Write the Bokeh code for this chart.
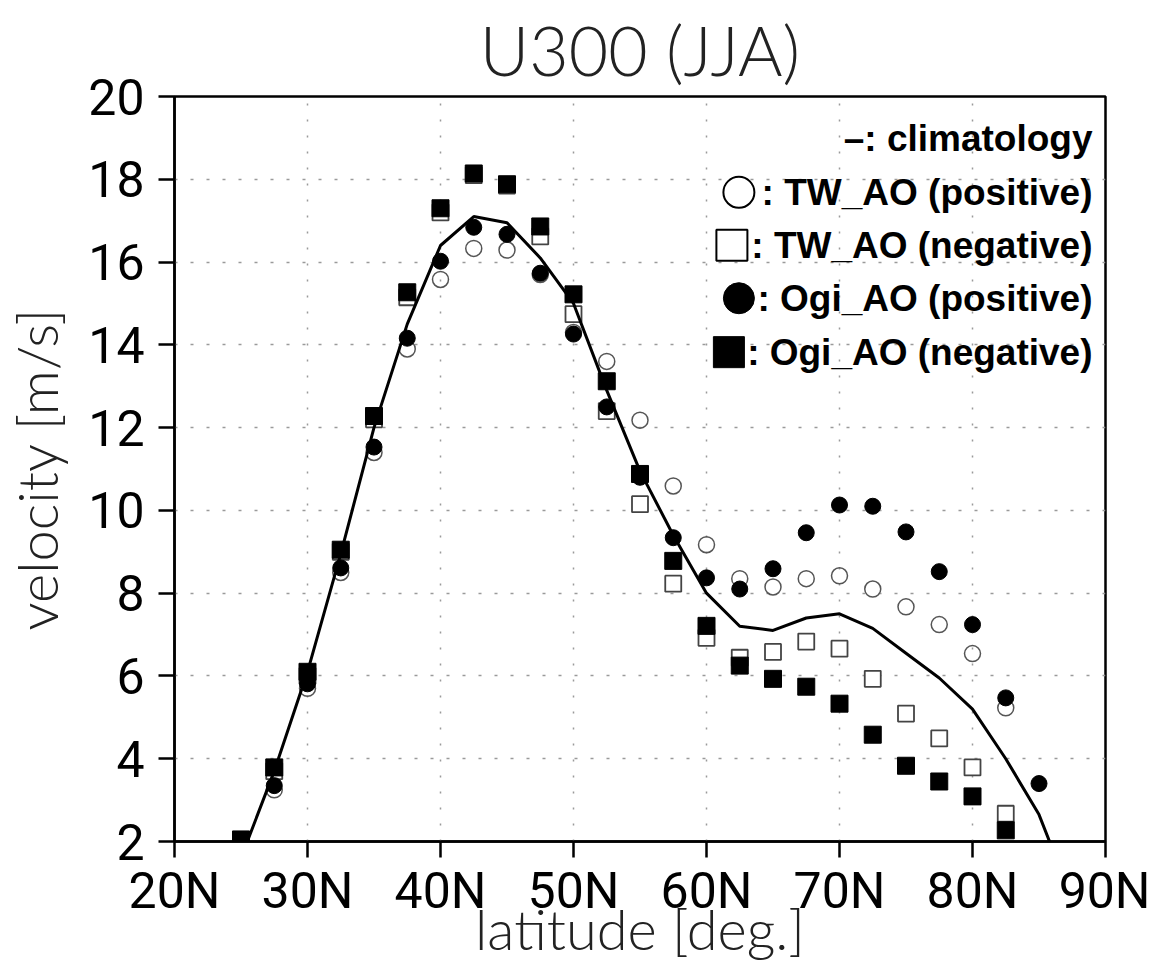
from bokeh.plotting import figure
from bokeh.models import Range1d, FixedTicker, Label
from bokeh.embed import file_html
from bokeh.resources import INLINE

# ---------------- data ----------------
lat_clim = [25, 27.5, 30, 32.5, 35, 37.5, 40, 42.5, 45, 47.5, 50, 52.5, 55, 57.5,
            60, 62.5, 65, 67.5, 70, 72.5, 75, 77.5, 80, 82.5, 85, 87.5]
climatology = [1.6, 3.7, 6.1, 8.95, 12.0, 14.5, 16.4, 17.1, 16.95, 16.1, 15.0, 12.9,
               10.95, 9.4, 8.0, 7.2, 7.1, 7.4, 7.5, 7.15, 6.55, 5.95, 5.2, 4.0, 2.65, 0.6]

lat_tw_pos = [27.5, 30, 32.5, 35, 37.5, 40, 42.5, 45, 47.5, 50, 52.5, 55, 57.5,
              60, 62.5, 65, 67.5, 70, 72.5, 75, 77.5, 80, 82.5]
tw_ao_pos = [3.25, 5.7, 8.5, 11.4, 13.9, 15.58, 16.33, 16.29, 15.7, 14.3, 13.6, 12.18,
             10.59, 9.17, 8.35, 8.15, 8.35, 8.42, 8.1, 7.67, 7.24, 6.54, 5.23]

lat_tw_neg = [25, 27.5, 30, 32.5, 35, 37.5, 40, 42.5, 45, 47.5, 50, 52.5, 55, 57.5,
              60, 62.5, 65, 67.5, 70, 72.5, 75, 77.5, 80, 82.5]
tw_ao_neg = [2.0, 3.7, 6.0, 9.0, 12.2, 15.15, 17.2, 18.1, 17.85, 16.62, 14.74, 12.4,
             10.15, 8.23, 6.92, 6.44, 6.58, 6.83, 6.66, 5.93, 5.09, 4.49, 3.79, 2.67]

lat_ogi_pos = [27.5, 30, 32.5, 35, 37.5, 40, 42.5, 45, 47.5, 50, 52.5, 55, 57.5,
               60, 62.5, 65, 67.5, 70, 72.5, 75, 77.5, 80, 82.5, 85]
ogi_ao_pos = [3.35, 5.81, 8.61, 11.53, 14.16, 16.02, 16.84, 16.67, 15.73, 14.26, 12.5, 10.8,
              9.34, 8.37, 8.1, 8.59, 9.46, 10.13, 10.1, 9.48, 8.52, 7.24, 5.47, 3.4]

lat_ogi_neg = [25, 27.5, 30, 32.5, 35, 37.5, 40, 42.5, 45, 47.5, 50, 52.5, 55, 57.5,
               60, 62.5, 65, 67.5, 70, 72.5, 75, 77.5, 80, 82.5]
ogi_ao_neg = [2.05, 3.79, 6.1, 9.05, 12.28, 15.27, 17.3, 18.14, 17.88, 16.86, 15.22, 13.12,
              10.88, 8.78, 7.21, 6.25, 5.93, 5.74, 5.33, 4.58, 3.83, 3.45, 3.09, 2.27]

x_ticks = [20, 30, 40, 50, 60, 70, 80, 90]
x_tick_labels = ["20N", "30N", "40N", "50N", "60N", "70N", "80N", "90N"]
y_ticks = [2, 4, 6, 8, 10, 12, 14, 16, 18, 20]

legend_texts = ["\u2013: climatology", ": TW_AO (positive)", ": TW_AO (negative)",
                ": Ogi_AO (positive)", ": Ogi_AO (negative)"]

# ---------------- figure ----------------
W, H = 1150, 965
FL, FR, FT, FB = 173, 1105, 95, 841   # frame edges in pixels

p = figure(width=W, height=H, x_range=Range1d(20, 90), y_range=Range1d(2, 20),
           output_backend="svg", toolbar_location=None,
           min_border_left=FL, min_border_right=W - FR,
           min_border_top=FT, min_border_bottom=H - FB,
           title="U300 (JJA)", background_fill_color="white",
           border_fill_color="white")

p.title.align = "center"
p.title.text_font = "Lato Light"
p.title.text_font_style = "normal"
p.title.text_font_size = "68px"
p.title.text_color = "#222222"
p.title.standoff = 13

for ax in (p.xaxis[0], p.yaxis[0]):
    ax.axis_line_width = 2.5
    ax.axis_line_color = "black"
    ax.major_tick_line_width = 2.5
    ax.major_tick_line_color = "black"
    ax.major_tick_out = 16
    ax.major_tick_in = 0
    ax.minor_tick_line_color = None
    ax.major_label_text_font = "Roboto"
    ax.major_label_text_font_size = "50px"
    ax.major_label_text_color = "black"
    ax.axis_label_text_font = "Lato Light"
    ax.axis_label_text_font_style = "normal"
    ax.axis_label_text_font_size = "56px"
    ax.axis_label_text_color = "#222222"

p.xaxis.ticker = FixedTicker(ticks=x_ticks)
p.xaxis.major_label_overrides = {t: s for t, s in zip(x_ticks, x_tick_labels)}
p.xaxis.axis_label = "latitude [deg.]"
p.xaxis.major_label_standoff = 4
p.xaxis.axis_label_standoff = -28

p.yaxis.ticker = FixedTicker(ticks=y_ticks)
p.yaxis.axis_label = "velocity [m/s]"
p.yaxis.major_label_standoff = 14
p.yaxis.axis_label_standoff = 15

p.xgrid.grid_line_color = "#9a9a9a"
p.xgrid.grid_line_dash = "2 14"
p.xgrid.grid_line_width = 1.5
p.ygrid.grid_line_color = "#9a9a9a"
p.ygrid.grid_line_dash = "3 13"
p.ygrid.grid_line_width = 1.5

p.outline_line_color = "black"
p.outline_line_width = 2.5
p.outline_line_alpha = 1.0

MS = 16
p.scatter(lat_tw_pos, tw_ao_pos, marker="circle", size=MS, fill_color="white",
          fill_alpha=0.0, line_color="#555555", line_width=1.5)
p.scatter(lat_tw_neg, tw_ao_neg, marker="square", size=MS, fill_color="white",
          line_color="#444444", line_width=1.8)
p.scatter(lat_ogi_pos, ogi_ao_pos, marker="circle", size=MS, fill_color="black",
          line_color="black", line_width=1)
p.scatter(lat_ogi_neg, ogi_ao_neg, marker="square", size=MS + 1, fill_color="black",
          line_color="black", line_width=1)
p.line(lat_clim, climatology, line_color="black", line_width=3)

# ---------------- legend (placed in pixels, converted to data) ----------------
def px2x(px):
    return 20 + (px - FL) * 70.0 / (FR - FL)

def py2y(py):
    return 2 + (FB - py) * 18.0 / (FB - FT)

row_centers = [137, 191, 244, 297, 351]  # text centres (px)
for txt, cy in zip(legend_texts, row_centers):
    p.add_layout(Label(x=px2x(1092), y=py2y(cy), text=txt, text_align="right",
                       text_baseline="middle", text_font="Liberation Sans",
                       text_font_style="bold", text_font_size="37px",
                       text_color="black"))

LS = 31
p.scatter([px2x(738)], [py2y(191)], marker="circle", size=LS, fill_color="white",
          line_color="black", line_width=2)
p.scatter([px2x(731)], [py2y(244)], marker="square", size=LS, fill_color="white",
          line_color="black", line_width=2)
p.scatter([px2x(738)], [py2y(297)], marker="circle", size=LS, fill_color="black",
          line_color="black")
p.scatter([px2x(728)], [py2y(351)], marker="square", size=LS, fill_color="black",
          line_color="black")

open("out.html", "w").write(file_html(p, INLINE))
